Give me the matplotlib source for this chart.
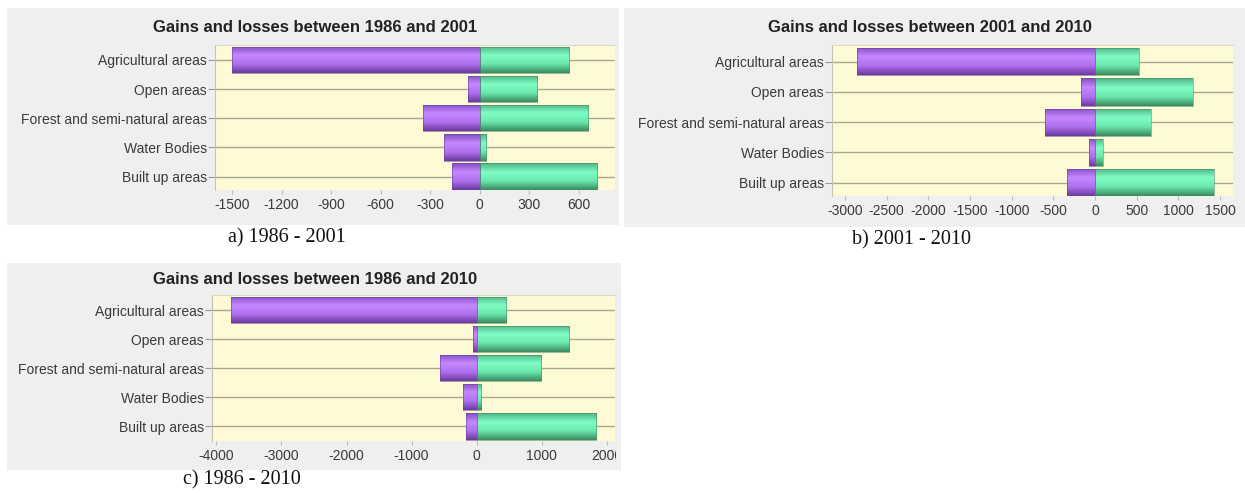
import numpy as np
import matplotlib
matplotlib.use('Agg')
import matplotlib.pyplot as plt
from matplotlib.colors import LinearSegmentedColormap
from matplotlib.patches import Rectangle
from matplotlib.transforms import Bbox, TransformedBbox

plt.rcParams['axes.unicode_minus'] = False
plt.rcParams['font.family'] = ['Liberation Sans', 'DejaVu Sans']

categories = ['Agricultural areas', 'Open areas', 'Forest and semi-natural areas',
              'Water Bodies', 'Built up areas']

# values (ha)
losses_86_01 = [-1500, -68, -341, -217, -165]
gains_86_01 = [541, 350, 659, 37, 710]
losses_01_10 = [-2860, -164, -603, -72, -336]
gains_01_10 = [528, 1173, 668, 96, 1428]
losses_86_10 = [-3780, -61, -561, -215, -169]
gains_86_10 = [457, 1415, 988, 62, 1835]

ticks_a = [-1500, -1200, -900, -600, -300, 0, 300, 600]
ticks_b = [-3000, -2500, -2000, -1500, -1000, -500, 0, 500, 1000, 1500]
ticks_c = [-4000, -3000, -2000, -1000, 0, 1000, 2000]

W, H = 1245, 493
fig = plt.figure(figsize=(W / 100, H / 100), dpi=100)

purple = LinearSegmentedColormap.from_list('p', ['#8450c4', '#c687ff', '#b070f0', '#6a3a9c'])
green = LinearSegmentedColormap.from_list('g', ['#4fb584', '#80fdc4', '#6ae8ac', '#3a8a5e'])
grad = np.linspace(0, 1, 64).reshape(-1, 1)


def px_rect(x0, y0, x1, y1):
    # pixel box (top-left origin) -> figure fraction [l, b, w, h]
    return [x0 / W, 1 - y1 / H, (x1 - x0) / W, (y1 - y0) / H]


def grey_box(x0, y0, x1, y1):
    l, b, w, h = px_rect(x0, y0, x1, y1)
    fig.add_artist(Rectangle((l, b), w, h, transform=fig.transFigure,
                             facecolor='#efefef', edgecolor='none', zorder=-5))


def panel(box, losses, gains, ticks, xlim, ylim, title, title_xy, caption, cap_xy, clip_x=None):
    ax = fig.add_axes(px_rect(*box))
    ax.set_facecolor('#fffad6')
    y = np.arange(len(categories))
    for vals, cmap, ec in [(losses, purple, '#6a4494'), (gains, green, '#46896a')]:
        bars = ax.barh(y, vals, height=0.9, facecolor='none', edgecolor=ec,
                       linewidth=0.4, zorder=3)
        for bar in bars:
            x0, y0 = bar.get_x(), bar.get_y()
            im = ax.imshow(grad, cmap=cmap, origin='lower', aspect='auto',
                           interpolation='bicubic', zorder=2,
                           extent=(x0, x0 + bar.get_width(), y0, y0 + bar.get_height()))
            im.set_clip_path(bar)
    ax.set_xlim(*xlim)
    ax.set_ylim(*ylim)
    ax.set_yticks(y)
    ax.set_yticklabels(categories)
    ax.set_xticks(ticks)
    ax.set_xticklabels([str(t) for t in ticks])
    ax.set_axisbelow(True)
    ax.grid(axis='y', color='#aaa88e', linewidth=1.0)
    ax.grid(axis='x', visible=False)
    for s in ['right', 'bottom']:
        ax.spines[s].set_visible(False)
    ax.spines['left'].set_color('#c4c2b0')
    ax.spines['top'].set_color('#dcdac4')
    ax.tick_params(axis='y', length=5, color='#999999', pad=1, labelsize=10, labelcolor='#3a3a3a')
    ax.tick_params(axis='x', length=3, color='#bbbbbb', pad=3, labelsize=10, labelcolor='#3a3a3a')
    if clip_x is not None:
        cb = TransformedBbox(Bbox.from_extents(0, 0, clip_x / W, 1), fig.transFigure)
        for t in ax.xaxis.get_major_ticks():
            t.label1.set_clip_on(True)
            t.label1.set_clip_box(cb)
    fig.text(title_xy[0] / W, 1 - title_xy[1] / H, title, ha='center', va='center',
             fontsize=12, fontweight='bold', color='#222222')
    fig.text(cap_xy[0] / W, 1 - cap_xy[1] / H, caption, ha='center', va='center',
             fontsize=14.5, family=['Liberation Serif', 'DejaVu Serif'], color='#111111')
    return ax


grey_box(7, 8, 619, 225)
grey_box(624, 8, 1250, 227)
grey_box(7, 263, 621, 470)

panel((215, 45, 615, 190), losses_86_01, gains_86_01, ticks_a, (-1603, 821), (4.46, -0.51),
      'Gains and losses between 1986 and 2001', (315, 28), 'a) 1986 - 2001', (287, 238))
panel((832, 45, 1233, 196), losses_01_10, gains_01_10, ticks_b, (-3157, 1656), (4.44, -0.55),
      'Gains and losses between 2001 and 2010', (930, 28), 'b) 2001 - 2010', (911, 240),
      clip_x=1239)
panel((212, 295, 615, 441), losses_86_10, gains_86_10, ticks_c, (-4068, 2128), (4.5, -0.52),
      'Gains and losses between 1986 and 2010', (315, 280), 'c) 1986 - 2010', (242, 480),
      clip_x=616)

fig.savefig('out.png', dpi=100)
